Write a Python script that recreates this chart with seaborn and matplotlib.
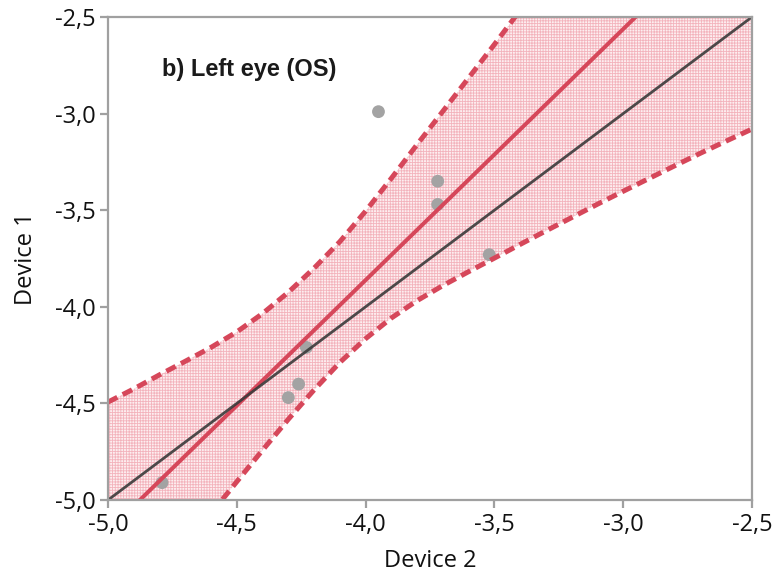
import numpy as np
import matplotlib
matplotlib.use("Agg")
import matplotlib.pyplot as plt
from matplotlib.ticker import FuncFormatter
import seaborn as sns

# Refraction readings (D) for the left eye
device2 = [-3.95, -3.72, -3.72, -3.52, -4.23, -4.26, -4.30, -4.79]
device1 = [-2.99, -3.35, -3.47, -3.73, -4.21, -4.40, -4.47, -4.91]

# 95% confidence band of the regression line
band_x = [-5.0, -4.9, -4.8, -4.7, -4.6, -4.5, -4.4, -4.3, -4.2, -4.1, -4.0,
          -3.9, -3.8, -3.7, -3.6, -3.5, -3.4, -3.3, -3.2, -3.1, -3.0,
          -2.9, -2.8, -2.7, -2.6, -2.5]
band_hi = [-4.493, -4.425, -4.352, -4.282, -4.210, -4.130, -4.035, -3.925,
           -3.800, -3.663, -3.505, -3.335, -3.160, -2.988, -2.815, -2.642,
           -2.465, -2.290, -2.110, -1.930, -1.745, -1.560, -1.370, -1.180,
           -0.990, -0.800]
band_lo = [-5.760, -5.580, -5.410, -5.240, -5.070, -4.905, -4.742, -4.582,
           -4.430, -4.288, -4.165, -4.058, -3.968, -3.890, -3.818, -3.748,
           -3.677, -3.607, -3.538, -3.469, -3.402, -3.336, -3.270, -3.205,
           -3.142, -3.080]

ticks = [-5.0, -4.5, -4.0, -3.5, -3.0, -2.5]
panel_title = "b) Left eye (OS)"

RED = "#d6475a"
GREY = "#a0a0a0"

sns.set_theme(style="white")
plt.rcParams["font.family"] = ["Open Sans", "DejaVu Sans"]
plt.rcParams["hatch.linewidth"] = 0.6

fig = plt.figure(figsize=(7.73, 5.76), dpi=100)
ax = fig.add_axes([0.1397, 0.1319, 0.8331, 0.8386])
ax.set_xlim(ticks[0], ticks[-1])
ax.set_ylim(ticks[0], ticks[-1])

# confidence band: light pink with a fine cross-hatch
ax.fill_between(band_x, band_lo, band_hi, facecolor="#fdeef0",
                edgecolor="#f3b3bc", hatch="++++++", linewidth=0, zorder=1)

# observations
sns.scatterplot(x=device2, y=device1, ax=ax, color="#a3a3a3", s=85,
                edgecolor="none", zorder=2)

# band limits
for edge in (band_hi, band_lo):
    ax.plot(band_x, edge, color=RED, lw=3.6, linestyle=(0, (2.1, 1.2)),
            dash_capstyle="butt", zorder=3)

# least-squares fit across the full axis range
sns.regplot(x=device2, y=device1, ax=ax, scatter=False, ci=None,
            truncate=False, line_kws=dict(color=RED, lw=2.9, zorder=4))

# line of identity
ax.plot(ticks, ticks, color="#3a3a3a", lw=2.0, alpha=0.9, zorder=5)

ax.set_xlim(ticks[0], ticks[-1])
ax.set_ylim(ticks[0], ticks[-1])
ax.set_xticks(ticks)
ax.set_yticks(ticks)
comma = FuncFormatter(lambda v, _: f"{v:.1f}".replace(".", ","))
ax.xaxis.set_major_formatter(comma)
ax.yaxis.set_major_formatter(comma)

for sp in ax.spines.values():
    sp.set_color(GREY)
    sp.set_linewidth(1.6)
    sp.set_visible(True)
    sp.set_zorder(6)
ax.tick_params(axis="both", which="major", direction="out", length=6,
               width=1.6, color=GREY, labelsize=17, labelcolor="#111111",
               pad=3, bottom=True, left=True)

ax.set_xlabel("Device 2", fontsize=17, color="#111111", labelpad=9)
ax.set_ylabel("Device 1", fontsize=17, color="#111111", labelpad=12)

ax.text(-4.79, -2.77, panel_title, fontsize=17, fontweight="bold",
        family=["Liberation Sans", "DejaVu Sans"], color="#1a1a1a",
        ha="left", va="center", zorder=7)

fig.savefig("out.png", dpi=100)
